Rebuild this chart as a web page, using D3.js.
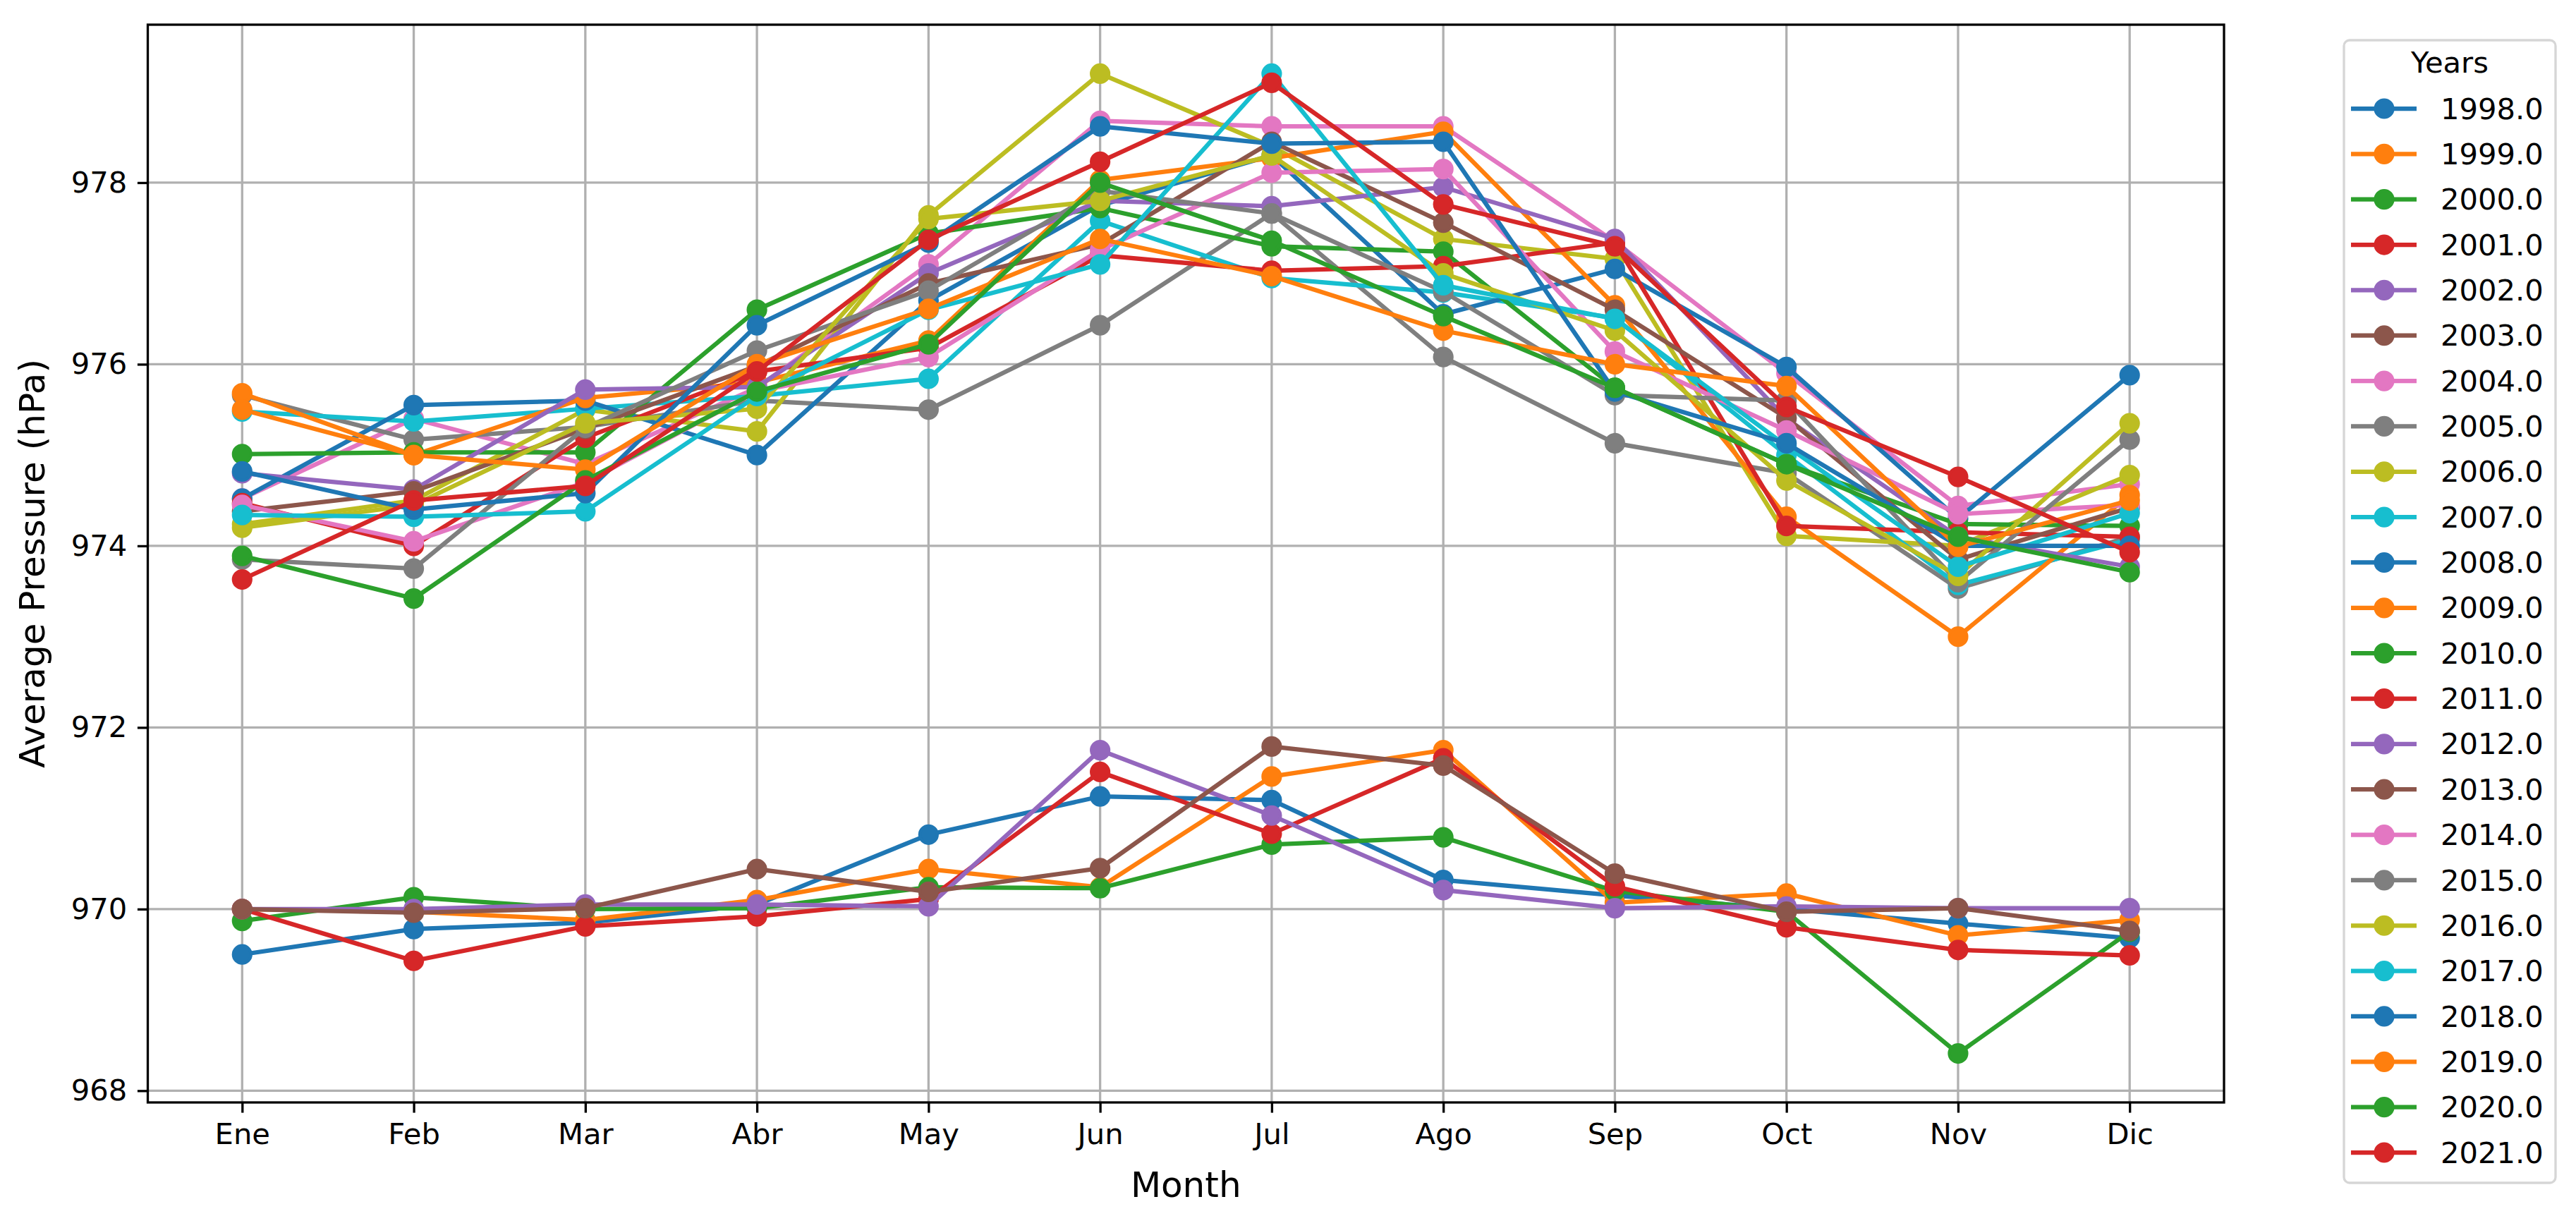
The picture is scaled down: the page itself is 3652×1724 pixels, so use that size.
<!DOCTYPE html>
<html>
<head>
<meta charset="utf-8">
<script src="https://cdn.jsdelivr.net/npm/d3@7"></script>
<style>
  html, body { margin: 0; padding: 0; background: #ffffff; }
  svg { display: block; font-family: "DejaVu Sans", sans-serif; }
</style>
</head>
<body>
<svg id="chart" width="3652" height="1724"></svg>
<script>
// ---------- data ----------
const months = ["Ene","Feb","Mar","Abr","May","Jun","Jul","Ago","Sep","Oct","Nov","Dic"];
const years = ["1998.0","1999.0","2000.0","2001.0","2002.0","2003.0","2004.0","2005.0","2006.0","2007.0","2008.0","2009.0","2010.0","2011.0","2012.0","2013.0","2014.0","2015.0","2016.0","2017.0","2018.0","2019.0","2020.0","2021.0"];
const yTicks = [968, 970, 972, 974, 976, 978];

const y1998 = [969.50, 969.78, 969.85, 970.05, 970.82, 971.24, 971.20, 970.32, 970.15, 970.00, 969.84, 969.68];
const y1999 = [970.00, 969.97, 969.88, 970.10, 970.44, 970.24, 971.46, 971.75, 970.07, 970.17, 969.71, 969.88];
const y2000 = [969.87, 970.13, 970.00, 970.01, 970.24, 970.23, 970.71, 970.79, 970.20, 969.97, 968.41, 969.75];
const y2001 = [970.00, 969.43, 969.81, 969.92, 970.11, 971.51, 970.83, 971.66, 970.25, 969.80, 969.55, 969.49];
const y2002 = [970.00, 970.00, 970.05, 970.05, 970.03, 971.75, 971.03, 970.21, 970.01, 970.03, 970.01, 970.01];
const y2003 = [970.00, 969.96, 970.01, 970.44, 970.19, 970.45, 971.79, 971.58, 970.39, 969.97, 970.01, 969.76];
const y2004 = [974.52, 975.40, 974.90, 975.74, 977.10, 978.68, 978.62, 978.62, 977.35, 975.90, 974.44, 974.68];
const y2005 = [975.66, 975.17, 975.31, 975.60, 975.50, 976.43, 977.66, 976.08, 975.13, 974.80, 973.53, 974.10];
const y2006 = [974.24, 974.50, 975.50, 975.26, 977.64, 979.20, 978.40, 977.38, 977.16, 974.11, 974.00, 974.78];
const y2007 = [975.48, 975.37, 975.51, 975.65, 975.84, 977.58, 976.95, 976.79, 976.51, 975.00, 973.57, 974.07];
const y2008 = [974.52, 975.55, 975.60, 975.00, 976.70, 977.75, 978.30, 976.55, 977.05, 975.97, 974.30, 975.88];
const y2009 = [975.68, 975.00, 975.63, 975.80, 976.26, 978.03, 978.27, 978.56, 976.65, 974.32, 973.00, 974.56];
const y2010 = [975.01, 975.03, 975.03, 976.60, 977.44, 977.72, 977.30, 977.24, 975.74, 974.90, 974.24, 974.22];
const y2011 = [974.47, 974.00, 975.19, 975.92, 976.18, 977.20, 977.03, 977.08, 977.34, 974.22, 974.15, 974.10];
const y2012 = [974.80, 974.62, 975.72, 975.75, 977.00, 977.80, 977.74, 977.95, 977.38, 975.40, 974.10, 973.77];
const y2013 = [974.38, 974.60, 975.29, 975.98, 976.89, 977.32, 978.45, 977.56, 976.60, 975.41, 973.85, 974.42];
const y2014 = [974.45, 974.05, 974.70, 975.70, 976.08, 977.26, 978.11, 978.15, 976.14, 975.27, 974.35, 974.45];
const y2015 = [973.85, 973.75, 975.30, 976.15, 976.81, 977.91, 977.66, 976.80, 975.66, 975.60, 973.60, 975.17];
const y2016 = [974.20, 974.45, 975.35, 975.51, 977.60, 977.80, 978.30, 977.00, 976.37, 974.72, 973.67, 975.35];
const y2017 = [974.34, 974.32, 974.38, 975.65, 976.60, 977.10, 979.20, 976.87, 976.50, 975.10, 973.77, 974.36];
const y2018 = [974.82, 974.40, 974.58, 976.43, 977.34, 978.62, 978.43, 978.45, 975.70, 975.13, 974.00, 974.00];
const y2019 = [975.50, 975.00, 974.84, 976.00, 976.61, 977.38, 976.97, 976.37, 976.00, 975.76, 973.99, 974.50];
const y2020 = [973.89, 973.42, 974.72, 975.70, 976.22, 978.00, 977.36, 976.53, 975.74, 974.90, 974.10, 973.71];
const y2021 = [973.63, 974.50, 974.66, 975.92, 977.37, 978.23, 979.10, 977.76, 977.30, 975.53, 974.76, 973.93];

const seriesValues = [y1998,y1999,y2000,y2001,y2002,y2003,y2004,y2005,y2006,y2007,y2008,y2009,
                      y2010,y2011,y2012,y2013,y2014,y2015,y2016,y2017,y2018,y2019,y2020,y2021];

// ---------- layout ----------
const W = 3652, H = 1724;
const plot = { left: 209.5, right: 3153, top: 35, bottom: 1563 };
const tab10 = d3.schemeCategory10;
const fs = 41.7, fsLabel = 50;

const svg = d3.select("#chart");
svg.append("rect").attr("width", W).attr("height", H).attr("fill", "#ffffff");

const allVals = seriesValues.flat();
const vmin = d3.min(allVals), vmax = d3.max(allVals);
const pad = (vmax - vmin) * 0.05;

const x = d3.scaleLinear().domain([-0.55, months.length - 1 + 0.55]).range([plot.left, plot.right]);
const y = d3.scaleLinear().domain([vmin - pad, vmax + pad]).range([plot.bottom, plot.top]);

// grid
const grid = svg.append("g");
grid.selectAll("line.vx").data(months).enter().append("line")
  .attr("x1", (d, i) => x(i)).attr("x2", (d, i) => x(i))
  .attr("y1", plot.top).attr("y2", plot.bottom)
  .attr("stroke", "#b0b0b0").attr("stroke-width", 3.3);
grid.selectAll("line.hy").data(yTicks).enter().append("line")
  .attr("x1", plot.left).attr("x2", plot.right)
  .attr("y1", d => y(d)).attr("y2", d => y(d))
  .attr("stroke", "#b0b0b0").attr("stroke-width", 3.3);

// series
const line = d3.line().x((d, i) => x(i)).y(d => y(d));
const gSeries = svg.append("g");
seriesValues.forEach((vals, k) => {
  const c = tab10[k % 10];
  const g = gSeries.append("g");
  g.append("path").datum(vals).attr("d", line)
    .attr("fill", "none").attr("stroke", c).attr("stroke-width", 6.25)
    .attr("stroke-linejoin", "round").attr("stroke-linecap", "butt");
  g.selectAll("circle").data(vals).enter().append("circle")
    .attr("cx", (d, i) => x(i)).attr("cy", d => y(d)).attr("r", 12.5)
    .attr("fill", c).attr("stroke", c).attr("stroke-width", 4.2);
});

// axes frame
svg.append("rect").attr("x", plot.left).attr("y", plot.top)
  .attr("width", plot.right - plot.left).attr("height", plot.bottom - plot.top)
  .attr("fill", "none").attr("stroke", "#000").attr("stroke-width", 3.3);

// x axis
const xAxis = d3.axisBottom(x).tickValues(d3.range(months.length))
  .tickFormat(i => months[i]).tickSizeInner(14.6).tickSizeOuter(0).tickPadding(14.6);
const gx = svg.append("g").attr("transform", `translate(0,${plot.bottom})`).call(xAxis);
gx.select(".domain").remove();
gx.selectAll(".tick line").attr("stroke", "#000").attr("stroke-width", 3.3);
gx.selectAll(".tick text").attr("font-size", fs).attr("fill", "#000").attr("font-family", "DejaVu Sans");

// y axis
const yAxis = d3.axisLeft(y).tickValues(yTicks).tickFormat(d3.format("d"))
  .tickSizeInner(14.6).tickSizeOuter(0).tickPadding(14.6);
const gy = svg.append("g").attr("transform", `translate(${plot.left},0)`).call(yAxis);
gy.select(".domain").remove();
gy.selectAll(".tick line").attr("stroke", "#000").attr("stroke-width", 3.3);
gy.selectAll(".tick text").attr("font-size", fs).attr("fill", "#000").attr("font-family", "DejaVu Sans");

// axis labels
svg.append("text").attr("x", (plot.left + plot.right) / 2).attr("y", 1697)
  .attr("text-anchor", "middle").attr("font-size", fsLabel).attr("fill", "#000").text("Month");
svg.append("text")
  .attr("transform", `translate(63,${(plot.top + plot.bottom) / 2}) rotate(-90)`)
  .attr("text-anchor", "middle").attr("font-size", fsLabel).attr("fill", "#000")
  .text("Average Pressure (hPa)");

// legend
const lg = svg.append("g");
const L = { x: 3323, y: 57, w: 300, h: 1620 };
lg.append("rect").attr("x", L.x).attr("y", L.y).attr("width", L.w).attr("height", L.h)
  .attr("rx", 8).attr("ry", 8).attr("fill", "#ffffff").attr("fill-opacity", 0.8)
  .attr("stroke", "#d6d6d6").attr("stroke-width", 3.3);
lg.append("text").attr("x", L.x + L.w / 2).attr("y", 88).attr("dy", "0.35em")
  .attr("text-anchor", "middle").attr("font-size", fs).attr("fill", "#000").text("Years");
const rowY = d3.scaleLinear().domain([0, years.length - 1]).range([154, 1634]);
years.forEach((yr, k) => {
  const c = tab10[k % 10];
  const cy = rowY(k);
  lg.append("line").attr("x1", 3333).attr("x2", 3426).attr("y1", cy).attr("y2", cy)
    .attr("stroke", c).attr("stroke-width", 6.25);
  lg.append("circle").attr("cx", 3380).attr("cy", cy).attr("r", 12.5)
    .attr("fill", c).attr("stroke", c).attr("stroke-width", 4.2);
  lg.append("text").attr("x", 3460).attr("y", cy).attr("dy", "0.35em")
    .attr("font-size", fs).attr("fill", "#000").text(yr);
});
</script>
</body>
</html>
